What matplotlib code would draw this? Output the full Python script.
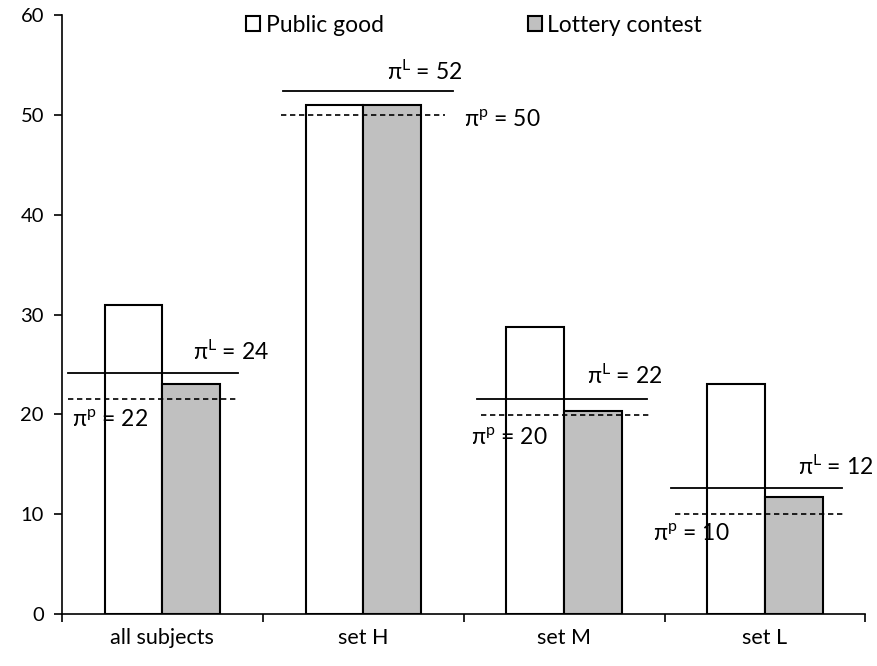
import matplotlib
matplotlib.use("Agg")
import matplotlib.pyplot as plt
import numpy as np

plt.rcParams['font.family'] = ['Lato', 'Open Sans', 'DejaVu Sans']
plt.rcParams['mathtext.fontset'] = 'custom'
plt.rcParams['mathtext.rm'] = 'Lato'
plt.rcParams['mathtext.it'] = 'Lato'

categories = ["all subjects", "set H", "set M", "set L"]
public_good = [31.0, 51.0, 28.7, 23.0]
lottery = [23.0, 51.0, 20.3, 11.7]

pi_L_values = [24.1, 52.4, 21.5, 12.6]     # solid reference lines
pi_p_values = [21.5, 50.0, 19.9, 10.0]     # dashed reference lines
pi_L_labels = ["24", "52", "22", "12"]
pi_p_labels = ["22", "50", "20", "10"]

# horizontal extents of reference lines (offsets from category centre)
L_extent = [(-0.47, 0.376), (-0.40, 0.447), (-0.433, 0.413), (-0.467, 0.385)]
p_extent = [(-0.47, 0.37), (-0.41, 0.407), (-0.413, 0.428), (-0.447, 0.394)]
# label anchor (x offset, y) for pi^L and pi^p text
L_text = [(0.152, 25.4), (0.117, 53.5), (0.113, 23.0), (0.165, 13.9)]
p_text = [(-0.452, 18.8), (0.502, 48.9), (-0.465, 17.05), (-0.557, 7.4)]

fig = plt.figure(figsize=(8.78, 6.66), dpi=100)
ax = fig.add_axes([0.0706, 0.078, 0.915, 0.8995])

x = np.arange(len(categories))
w = 0.287
ax.bar(x - w/2, public_good, w, color='white', edgecolor='black', linewidth=1.5,
       label='Public good', zorder=2)
ax.bar(x + w/2, lottery, w, color='#c0c0c0', edgecolor='black', linewidth=1.5,
       label='Lottery contest', zorder=2)

for i in range(len(categories)):
    a, b = L_extent[i]
    ax.plot([i + a, i + b], [pi_L_values[i]] * 2, color='black', lw=1.3, zorder=3)
    a, b = p_extent[i]
    ax.plot([i + a, i + b], [pi_p_values[i]] * 2, color='black', lw=1.2,
            linestyle=(0, (3.2, 2.2)), zorder=3)
    tx, ty = L_text[i]
    ax.text(i + tx, ty, "π$^{\\mathrm{L}}$ = " + pi_L_labels[i], fontsize=16.5,
            ha='left', va='baseline', zorder=4)
    tx, ty = p_text[i]
    ax.text(i + tx, ty, "π$^{\\mathrm{p}}$ = " + pi_p_labels[i], fontsize=16.5,
            ha='left', va='baseline', zorder=4)

ax.set_xlim(-0.5, 3.5)
ax.set_ylim(0, 60)
ax.set_yticks(np.arange(0, 61, 10))
ax.tick_params(axis='y', labelsize=14.5, length=6, width=1.2, direction='out', pad=7)
ax.set_xticks(np.arange(-0.5, 3.6, 1.0))
ax.set_xticklabels([])
ax.tick_params(axis='x', which='major', length=6, width=1.2, direction='out')
ax.set_xticks(x, minor=True)
ax.set_xticklabels(categories, minor=True)
ax.tick_params(axis='x', which='minor', length=0, labelsize=15.5, pad=10)

for s in ['top', 'right']:
    ax.spines[s].set_visible(False)
ax.spines['left'].set_linewidth(1.2)
ax.spines['bottom'].set_linewidth(1.2)

leg = ax.legend(loc='center', bbox_to_anchor=(0.513, 0.983), ncol=2, frameon=False,
                fontsize=16.5, handlelength=0.6, handleheight=0.6,
                handletextpad=0.25, columnspacing=6.3, borderaxespad=0)

fig.savefig("out.png", dpi=100)
